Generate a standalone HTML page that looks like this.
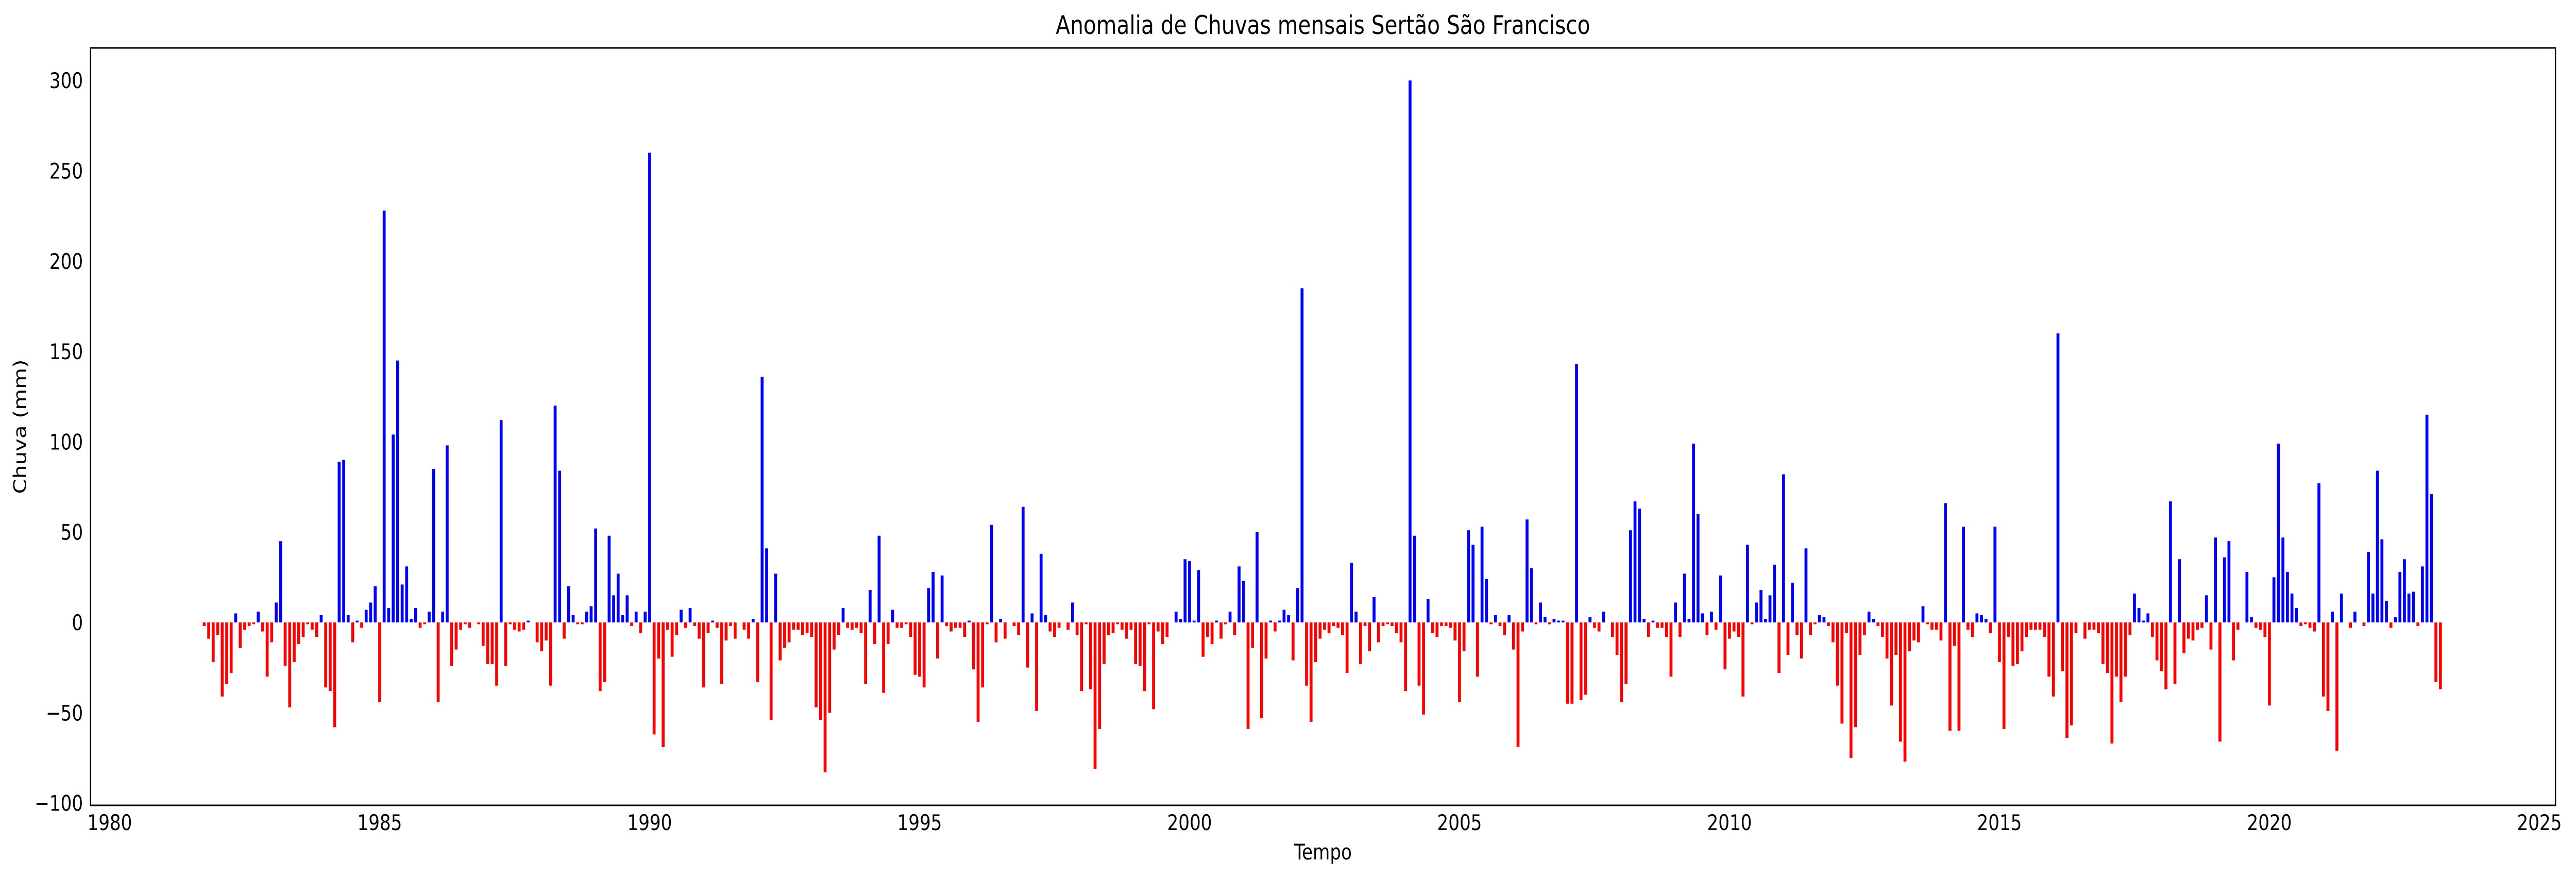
<!DOCTYPE html>
<html>
<head>
<meta charset="utf-8">
<style>
  html, body { margin: 0; padding: 0; background: #fff; width: 100%; height: 100%; overflow: hidden; }
  svg { display: block; width: 100vw; height: 100vh; }
  text { font-family: "DejaVu Sans", "Liberation Sans", sans-serif; fill: #000; }
</style>
</head>
<body>
<svg id="chart" viewBox="0 0 6145 1704" preserveAspectRatio="none" xmlns="http://www.w3.org/2000/svg">
  <rect x="0" y="0" width="6145" height="1704" fill="#fff"/>
  <g id="bars"></g>
  <g id="xticks"></g>
  <g id="yticks"></g>
  <rect x="216" y="93" width="5880" height="1470" fill="none" stroke="#000" stroke-width="3"/>
  <text x="3156" y="66" font-size="50" text-anchor="middle">Anomalia de Chuvas mensais Sertão São Francisco</text>
  <text x="3156" y="1668" font-size="42" text-anchor="middle">Tempo</text>
  <text x="0" y="0" font-size="42" text-anchor="middle" transform="translate(62,828) rotate(-90)">Chuva (mm)</text>
</svg>
<script>
const startYear = 1981;
const startMonth = 9; // October (0-based)
const anomalies = [
-2,-9,-22,-7,-41,-34,-28,5,-14,-4,-2,-1,6,-5,-30,-11,11,45,-24,-47,
-22,-12,-8,-1,-4,-8,4,-36,-38,-58,89,90,4,-11,1,-3,7,11,20,-44,
228,8,104,145,21,31,2,8,-3,-1,6,85,-44,6,98,-24,-15,-4,-1,-3,
0,-1,-13,-23,-23,-35,112,-24,-1,-4,-5,-4,1,0,-11,-16,
-10,-35,120,84,-9,20,4,-1,-1,6,9,52,-38,-33,48,15,27,4,15,-2,
6,-6,6,260,-62,-20,-69,-4,-19,-7,7,-3,8,-2,-9,-36,-6,1,-3,-34,
-10,-2,-9,0,-4,-9,2,-33,136,41,-54,27,-21,-14,-11,-4,-4,-7,-6,-8,
-47,-54,-83,-50,-15,-7,8,-3,-4,-3,-6,-34,18,-12,48,-39,-12,7,-3,-3,
-1,-8,-29,-30,-36,19,28,-20,26,-2,-5,-3,-3,-8,1,-26,-55,-36,-1,54,
-11,2,
-9,0,-2,-7,64,-25,5,-49,38,4,-5,-8,-3,0,-4,11,-7,-38,-1,-37,
-81,-59,-23,-7,-6,-1,-4,-9,-4,-23,-24,-38,-1,-48,-5,-12,-8,0,6,2,
35,34,1,29,-19,-8,-12,1,-9,-1,6,-7,31,23,-59,-14,50,-53,-20,1,
-5,1,7,4,-21,19,185,-35,-55,-22,-9,-4,-6,-2,-3,-7,-28,33,6,-23,
-2,-16,14,-11,-2,-1,-2,-6,-11,-38,300,48,-35,-51,13,-6,-8,-2,-2,-3,
-10,-44,
-16,51,43,-30,53,24,-1,4,-2,-7,4,-15,-69,-5,57,30,-1,11,3,-1,
2,1,1,-45,-45,143,-43,-40,3,-3,-5,6,0,-8,-18,-44,-34,51,67,63,
2,-8,1,-3,-3,-8,-30,11,-8,27,2,99,60,5,-7,6,-4,26,-26,-9,
-5,-8,-41,43,-1,11,18,2,15,32,-28,82,-18,22,-7,-20,41,-7,-1,4,
3,-2,-11,-35,-56,-6,-75,-58,-18,-7,6,2,-2,-8,-20,-46,-18,-66,-77,-16,
-10,-11,
9,-1,-4,-4,-10,66,-60,-13,-60,53,-4,-8,5,4,2,-6,53,-22,-59,-8,
-24,-23,-16,-8,-4,-4,-4,-8,-30,-41,160,-27,-64,-57,-6,0,-9,-4,-4,-6,
-23,-28,-67,-30,-44,-30,-7,16,8,1,5,-8,-21,-27,-37,67,-34,35,-17,-9,
-10,-4,-3,15,-15,47,-66,36,45,-21,-4,0,28,3,-3,-4,-8,-46,25,99,
47,28,16,8,-2,-1,-3,-5,77,-41,-49,6,-71,16,0,-3,6,0,-2,39,
16,84,
46,12,-3,3,28,35,16,17,-2,31,115,71,-33,-37
];
const xTickYears = [1980, 1985, 1990, 1995, 2000, 2005, 2010, 2015, 2020, 2025];
const yTickValues = [-100, -50, 0, 50, 100, 150, 200, 250, 300];

const NS = 'http://www.w3.org/2000/svg';
function xScale(year) { return 261.7 + (year - 1980) * 128.8; }
function yScale(v) { return 1208 - v * 3.506; }

const barsG = document.getElementById('bars');
anomalies.forEach(function (v, i) {
  const t = startYear + (startMonth + i) / 12;
  const cx = xScale(t);
  const y0 = yScale(0), y1 = yScale(v);
  const r = document.createElementNS(NS, 'rect');
  r.setAttribute('x', (cx - 3.5).toFixed(2));
  r.setAttribute('y', Math.min(y0, y1).toFixed(2));
  r.setAttribute('width', 7);
  r.setAttribute('height', Math.abs(y1 - y0).toFixed(2));
  r.setAttribute('fill', v >= 0 ? '#0000ff' : '#ff0000');
  
  
  barsG.appendChild(r);
});

const xg = document.getElementById('xticks');
xTickYears.forEach(function (yr) {
  const tx = document.createElementNS(NS, 'text');
  tx.setAttribute('x', xScale(yr));
  tx.setAttribute('y', 1611);
  tx.setAttribute('font-size', 42);
  tx.setAttribute('text-anchor', 'middle');
  tx.textContent = String(yr);
  
  
  xg.appendChild(tx);
});

const yg = document.getElementById('yticks');
yTickValues.forEach(function (v) {
  const tx = document.createElementNS(NS, 'text');
  tx.setAttribute('x', 198);
  tx.setAttribute('y', yScale(v) + 15);
  tx.setAttribute('font-size', 42);
  tx.setAttribute('text-anchor', 'end');
  tx.textContent = v < 0 ? '\u2212' + Math.abs(v) : String(v);
  
  
  yg.appendChild(tx);
});
</script>
</body>
</html>
